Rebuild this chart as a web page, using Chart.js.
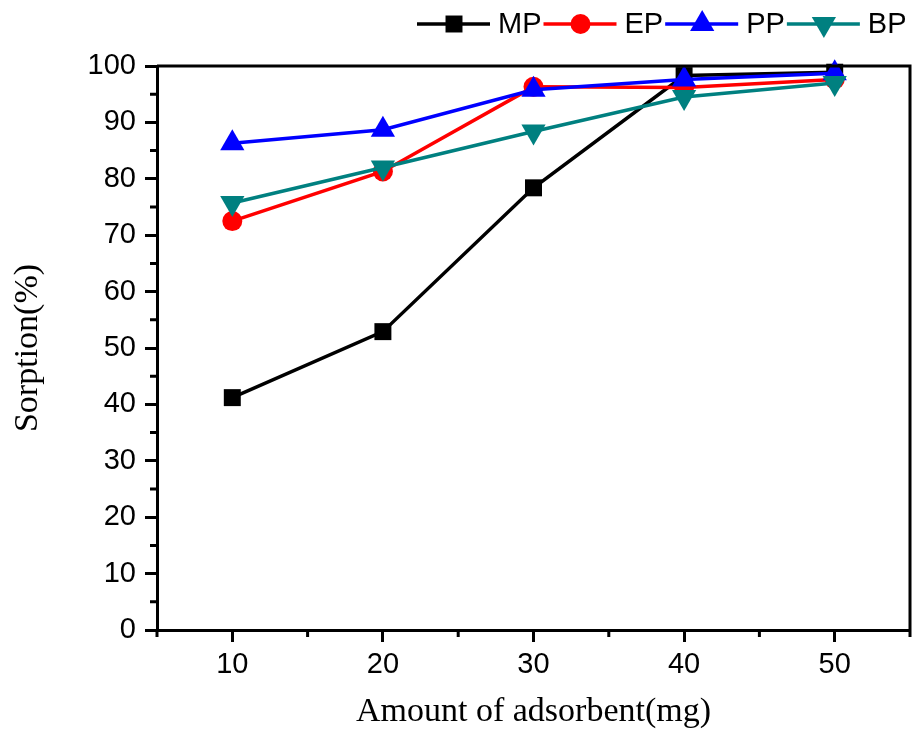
<!DOCTYPE html>
<html>
<head>
    <title>Sorption vs amount of adsorbent</title>
    <script src="https://cdn.jsdelivr.net/npm/chart.js"></script>
    <style>
        html, body { margin: 0; padding: 0; background: #fff; overflow: hidden; }
        #wrap { position: relative; width: 915px; height: 731px; }
    </style>
</head>
<body>
    <div id="wrap"><canvas id="chart"></canvas></div>

    <script>
    // data
    const amounts = [10, 20, 30, 40, 50];
    const mpValues = [41.2, 52.9, 78.4, 98.3, 98.9];
    const epValues = [72.5, 81.3, 96.3, 96.2, 97.6];
    const ppValues = [86.3, 88.7, 95.8, 97.6, 98.7];
    const bpValues = [75.7, 82.0, 88.4, 94.5, 97.0];
    const seriesNames = ['MP', 'EP', 'PP', 'BP'];
    const yTickValues = [0, 10, 20, 30, 40, 50, 60, 70, 80, 90, 100];
    const xMinorTicks = [5, 15, 25, 35, 45, 55];
    const yMinorTicks = [5, 15, 25, 35, 45, 55, 65, 75, 85, 95];

    const sansFont = "'Liberation Sans', Arial, sans-serif";
    const serifFont = "'Liberation Serif', 'Times New Roman', serif";

    function toPoints(values) {
        return amounts.map((x, i) => ({ x: x, y: values[i] }));
    }

    const styles = [
        { color: '#000000', pointStyle: 'rect', radius: 12, rotation: 0 },
        { color: '#ff0000', pointStyle: 'circle', radius: 10, rotation: 0 },
        { color: '#0000ff', pointStyle: 'triangle', radius: 14, rotation: 0 },
        { color: '#008080', pointStyle: 'triangle', radius: 14, rotation: 180 }
    ];
    const allValues = [mpValues, epValues, ppValues, bpValues];

    const datasets = allValues.map((vals, i) => ({
        label: seriesNames[i],
        data: toPoints(vals),
        borderColor: styles[i].color,
        backgroundColor: styles[i].color,
        borderWidth: 3.5,
        pointStyle: styles[i].pointStyle,
        pointRadius: styles[i].radius,
        pointRotation: styles[i].rotation,
        pointBorderWidth: 0,
        tension: 0,
        clip: false,
        order: 4 - i
    }));

    // frame, minor ticks and the line+marker legend
    const extrasPlugin = {
        id: 'extras',
        afterDatasetsDraw(chart) {
            const ctx = chart.ctx;
            const area = chart.chartArea;
            const xs = chart.scales.x;
            const ys = chart.scales.y;
            ctx.save();
            ctx.strokeStyle = '#000';
            ctx.lineWidth = 3;
            ctx.beginPath();
            ctx.moveTo(area.left, area.top);
            ctx.lineTo(area.right, area.top);
            ctx.lineTo(area.right, area.bottom);
            ctx.stroke();

            ctx.beginPath();
            yMinorTicks.forEach(v => {
                const py = ys.getPixelForValue(v);
                ctx.moveTo(area.left - 7, py);
                ctx.lineTo(area.left, py);
            });
            xMinorTicks.forEach(v => {
                const px = xs.getPixelForValue(v);
                ctx.moveTo(px, area.bottom);
                ctx.lineTo(px, area.bottom + 7);
            });
            ctx.stroke();
            ctx.restore();
        },
        afterDraw(chart) {
            const ctx = chart.ctx;
            ctx.save();
            ctx.font = '29px ' + sansFont;
            ctx.textBaseline = 'middle';
            ctx.textAlign = 'left';
            let x = 417;
            const y = 24;
            chart.data.datasets.forEach(ds => {
                ctx.strokeStyle = ds.borderColor;
                ctx.fillStyle = ds.backgroundColor;
                ctx.lineWidth = 3.5;
                ctx.beginPath();
                ctx.moveTo(x, y);
                ctx.lineTo(x + 73, y);
                ctx.stroke();
                Chart.helpers.drawPoint(ctx, {
                    pointStyle: ds.pointStyle,
                    rotation: ds.pointRotation,
                    radius: ds.pointRadius,
                    borderWidth: 0
                }, x + 37, y);
                ctx.fillStyle = '#000';
                ctx.fillText(ds.label, x + 81, y + 1);
                x = x + 81 + ctx.measureText(ds.label).width + 2;
            });
            ctx.restore();
        }
    };

    new Chart(document.getElementById('chart'), {
        type: 'line',
        data: { datasets: datasets },
        options: {
            responsive: true,
            maintainAspectRatio: false,
            animation: false,
            layout: {
                autoPadding: false,
                padding: { top: 66, right: 5, left: 0, bottom: 0 }
            },
            plugins: {
                legend: { display: false },
                tooltip: { enabled: false }
            },
            scales: {
                x: {
                    type: 'linear',
                    min: 5,
                    max: 55,
                    afterBuildTicks: scale => {
                        scale.ticks = amounts.map(v => ({ value: v }));
                    },
                    afterFit: scale => {
                        scale.height = 101;
                        scale.paddingLeft = 0;
                        scale.paddingRight = 0;
                    },
                    grid: {
                        drawOnChartArea: false,
                        tickLength: 12,
                        tickWidth: 3,
                        tickColor: '#000'
                    },
                    border: { color: '#000', width: 3 },
                    ticks: {
                        color: '#000',
                        padding: 6,
                        maxRotation: 0,
                        font: { family: sansFont, size: 29 }
                    },
                    title: {
                        display: true,
                        text: 'Amount of adsorbent(mg)',
                        color: '#000',
                        font: { family: serifFont, size: 34, lineHeight: 1 },
                        padding: { top: 0, bottom: 2 }
                    }
                },
                y: {
                    min: 0,
                    max: 100,
                    afterBuildTicks: scale => {
                        scale.ticks = yTickValues.map(v => ({ value: v }));
                    },
                    afterFit: scale => {
                        scale.width = 157;
                        scale.paddingTop = 0;
                        scale.paddingBottom = 0;
                    },
                    grid: {
                        drawOnChartArea: false,
                        tickLength: 12,
                        tickWidth: 3,
                        tickColor: '#000'
                    },
                    border: { color: '#000', width: 3 },
                    ticks: {
                        color: '#000',
                        padding: 9,
                        font: { family: sansFont, size: 29 }
                    },
                    title: {
                        display: true,
                        text: 'Sorption(%)',
                        color: '#000',
                        font: { family: serifFont, size: 34, lineHeight: 1 },
                        padding: { top: 11, bottom: 0 }
                    }
                }
            }
        },
        plugins: [extrasPlugin]
    });
    </script>
</body>
</html>
